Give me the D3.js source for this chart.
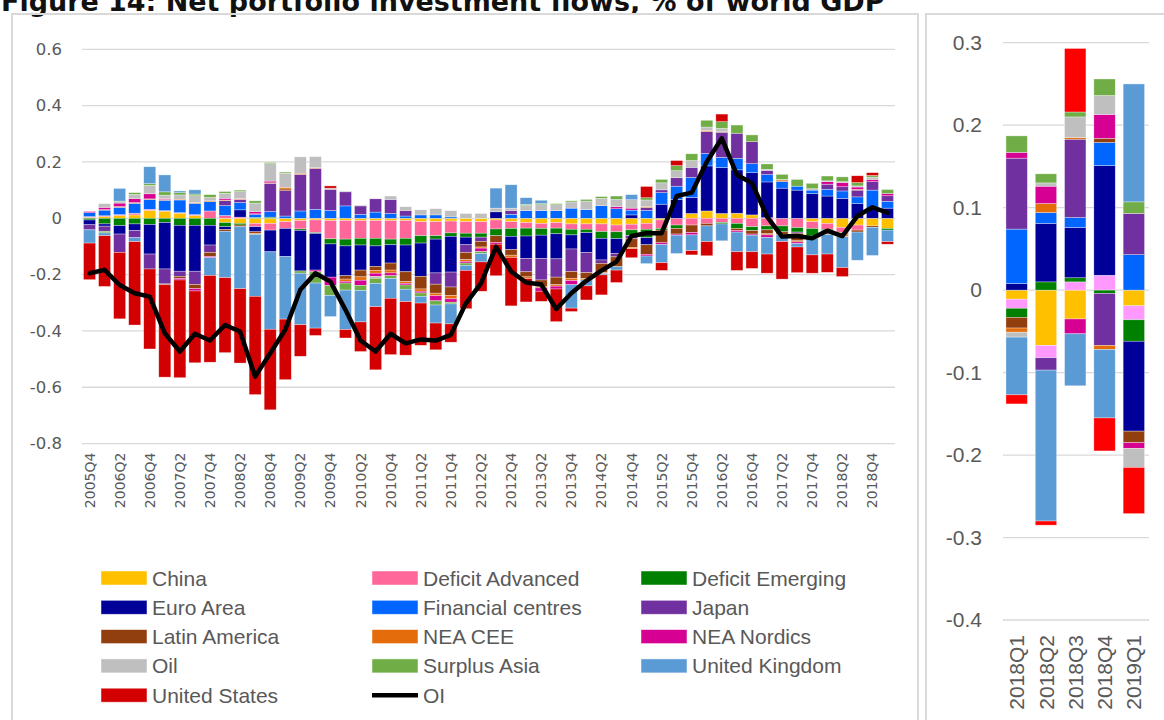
<!DOCTYPE html>
<html>
<head>
<meta charset="utf-8">
<script src="https://cdn.jsdelivr.net/npm/d3@7"></script>
<style>
body { margin: 0; background: #fff; }
svg { display: block; }
</style>
</head>
<body>
<svg id="chart" width="1164" height="720"></svg>
<script>
// categories
var quarters = ['2005Q4',
	'2006Q1','2006Q2','2006Q3','2006Q4','2007Q1','2007Q2','2007Q3','2007Q4',
	'2008Q1','2008Q2','2008Q3','2008Q4','2009Q1','2009Q2','2009Q3','2009Q4',
	'2010Q1','2010Q2','2010Q3','2010Q4','2011Q1','2011Q2','2011Q3','2011Q4',
	'2012Q1','2012Q2','2012Q3','2012Q4','2013Q1','2013Q2','2013Q3','2013Q4',
	'2014Q1','2014Q2','2014Q3','2014Q4','2015Q1','2015Q2','2015Q3','2015Q4',
	'2016Q1','2016Q2','2016Q3','2016Q4','2017Q1','2017Q2','2017Q3','2017Q4',
	'2018Q1','2018Q2','2018Q3','2018Q4','2019Q1'];
var recentQuarters = ['2018Q1','2018Q2','2018Q3','2018Q4','2019Q1'];

var seriesNames = ['China','Deficit Advanced','Deficit Emerging','Euro Area','Financial centres','Japan',
	'Latin America','NEA CEE','NEA Nordics','Oil','Surplus Asia','United Kingdom','United States'];
var seriesColours = ['#FFC000','#FF6699','#008000','#000099','#0066FF','#7030A0',
	'#913F0E','#E46C0A','#D60093','#BFBFBF','#70AD47','#5B9BD5','#D20000'];
var recentColours = ['#FFC000','#FF99FF','#008000','#000099','#0066FF','#7030A0',
	'#913F0E','#E46C0A','#D60093','#BFBFBF','#70AD47','#5B9BD5','#FF0000'];

// left panel, % of world GDP
var china = [0.003,0.006,0.01,0.012,0.028,0.025,0.018,0.01,0,-0.015,
	-0.018,-0.018,-0.018,-0.012,-0.008,-0.006,-0.008,-0.008,-0.008,-0.008,
	-0.008,-0.008,-0.012,-0.012,-0.01,-0.012,-0.012,-0.006,-0.012,-0.015,
	-0.018,-0.015,-0.02,-0.02,-0.02,-0.024,-0.021,-0.018,-0.006,0,
	0.017,0.026,0.017,0.018,0.012,0.002,0,0,-0.012,-0.018,
	-0.032,-0.024,-0.027,-0.036];
var deficitAdvanced = [0.003,0.003,0.003,0.006,0.004,0.002,0.002,0.003,0.026,0.01,
	0.004,-0.012,-0.024,-0.024,-0.03,-0.045,-0.065,-0.066,-0.063,-0.063,
	-0.066,-0.063,-0.05,-0.05,-0.042,-0.041,-0.041,-0.032,-0.024,-0.02,
	-0.018,-0.02,-0.019,-0.019,-0.027,-0.024,-0.02,-0.021,-0.03,-0.024,
	-0.024,-0.018,-0.015,-0.018,-0.03,-0.027,-0.027,-0.033,-0.024,-0.021,
	-0.019,-0.018,0,0];
var deficitEmerging = [-0.006,-0.02,-0.026,-0.02,-0.022,-0.015,-0.025,-0.025,-0.025,-0.015,
	-0.006,0.003,0.004,0,-0.005,-0.003,-0.018,-0.024,-0.024,-0.027,
	-0.02,-0.024,-0.026,-0.012,-0.012,-0.014,-0.014,-0.024,-0.028,-0.028,
	-0.024,-0.02,-0.02,-0.012,-0.024,-0.024,-0.02,-0.03,-0.006,-0.012,
	0,0,-0.005,-0.018,-0.014,-0.014,-0.021,-0.016,-0.027,-0.005,
	-0.004,0,0,-0.006];
var euroArea = [-0.017,-0.008,-0.03,-0.024,-0.105,-0.165,-0.163,-0.163,-0.07,-0.01,
	0.026,-0.018,-0.077,-0.1,-0.144,-0.13,-0.118,-0.106,-0.089,-0.073,
	-0.065,-0.095,-0.118,-0.12,-0.127,-0.027,0,0.023,-0.047,-0.08,
	-0.083,-0.089,-0.05,-0.071,-0.077,-0.053,0.012,-0.025,0.05,0.067,
	0.057,0.16,0.163,0.154,0.15,0.127,0.107,0.1,0.088,0.079,
	0.071,0.052,0.032,0.036];
var financialCentres = [0.014,0.02,0.026,0.035,0.035,0.037,0.045,0.04,0.033,0.035,
	0.026,0.01,0.02,0.008,0.026,0.032,0.028,0.044,0.014,0.022,
	0.017,0.008,0.012,0.012,0.005,0,0,0,0.014,0.027,
	0.027,0.027,0.036,0.031,0.045,0.034,0.017,0.028,0.041,0.047,
	0.071,0.044,0.036,0.041,0.032,0.026,0.024,0.014,0.012,0.024,
	0.026,0.024,0.068,0.024];
var japan = [-0.018,-0.018,-0.065,-0.025,-0.053,-0.053,-0.018,-0.047,-0.026,0.018,
	0.01,0.003,0.1,0.09,0.13,0.145,0.075,0.05,0.03,0.047,
	0.05,0.02,0,-0.04,-0.053,-0.027,-0.015,0,0.014,-0.047,
	-0.076,-0.065,-0.08,-0.071,-0.012,-0.012,-0.012,0.01,0.01,0.03,
	0.036,0.078,0.089,0.089,0.078,0.015,0,-0.004,0,0.018,
	0.015,0.024,0.03,0.02];
var latinAmerica = [0,0,0,0,0,-0.003,-0.008,-0.015,-0.015,-0.006,
	-0.006,-0.006,0,0.006,0,0,0,-0.012,-0.024,-0.014,
	-0.025,-0.035,-0.045,-0.032,-0.03,-0.026,-0.02,-0.024,-0.02,-0.018,
	-0.024,-0.027,-0.024,-0.021,-0.033,-0.035,-0.03,-0.034,-0.045,-0.02,
	-0.027,-0.009,0.002,-0.008,-0.012,-0.014,-0.01,-0.027,-0.008,-0.008,
	-0.004,-0.007,-0.005,0];
var neaCee = [0,0.002,0.003,0.003,0.002,0.003,0.003,0.003,0.003,0.002,
	0.002,-0.003,0.002,0.006,0.004,0.003,0,-0.008,-0.012,-0.01,
	-0.01,-0.006,-0.008,-0.009,-0.012,-0.006,-0.004,0,-0.008,-0.006,
	-0.004,-0.005,-0.008,-0.005,-0.003,0,-0.005,0.003,0,0,
	0,0.004,0,0,0,-0.004,0.005,-0.004,0,-0.005,
	-0.006,0.003,0,0];
var neaNordics = [0.004,0.008,0.012,0.014,0.018,0.003,-0.005,-0.008,-0.004,0.006,
	0.002,0.008,0.006,0,0,-0.006,-0.03,-0.006,-0.018,-0.012,
	-0.01,-0.006,-0.006,-0.018,-0.012,-0.006,-0.012,-0.006,0,0,
	-0.012,-0.01,-0.015,0,0,0.007,0.007,-0.006,-0.006,-0.004,
	-0.008,0,0,-0.005,-0.004,-0.009,0,-0.006,0,0.009,
	0.015,0.008,0.008,0.008];
var oil = [0,0.013,0.005,0.015,0.03,0.012,0.015,0.024,0.012,0.018,
	0.025,0.03,0.062,0.05,0.058,0.039,0.004,0.003,0.003,-0.006,
	0.012,0.013,0.018,0.022,0.022,0.017,0.017,0.013,0.008,0.018,
	0.021,0.021,0.022,0.03,0.026,0.026,0.03,0.024,0.025,0.025,
	0.024,0.012,0.012,0,0,0.004,0.002,0,0.005,0.003,
	0.003,0.004,0.008,0];
var surplusAsia = [0,-0.006,0.002,0.006,0.006,0.012,0.008,0.006,0.01,0.006,
	0.005,0.008,0.004,0.004,-0.008,-0.04,-0.035,-0.025,-0.018,-0.018,
	-0.01,-0.015,-0.012,-0.015,-0.006,-0.008,-0.007,0,0,0.004,
	0.004,0.004,0.004,0.006,0.006,0.012,0,0.008,0.012,0.018,
	0.024,0.024,0.024,0.029,0.024,0.019,0.018,0.024,0.019,0.017,
	0.017,0.012,0.006,0.014];
var unitedKingdom = [-0.047,-0.01,0.045,-0.014,0.06,0.06,0.006,0.015,-0.063,-0.165,
	-0.22,-0.22,-0.275,-0.222,-0.183,-0.16,-0.075,-0.14,-0.112,-0.083,
	-0.07,-0.044,-0.024,-0.064,-0.071,-0.018,-0.03,0.071,0.083,0.024,
	0.012,0,-0.083,-0.021,-0.005,-0.012,0.018,-0.027,-0.065,-0.065,
	-0.056,-0.056,-0.06,-0.07,-0.059,-0.059,-0.025,-0.012,-0.059,-0.07,
	-0.11,-0.1,-0.1,-0.041];
var unitedStates = [-0.13,-0.18,-0.236,-0.296,-0.284,-0.328,-0.347,-0.255,-0.308,-0.266,
	-0.264,-0.349,-0.286,-0.215,-0.112,-0.026,0.008,-0.03,-0.105,-0.224,
	-0.2,-0.19,-0.15,-0.095,-0.065,-0.136,-0.104,-0.112,-0.172,-0.083,
	-0.036,-0.116,-0.012,-0.05,-0.071,-0.044,-0.032,0.04,-0.027,0.018,
	-0.015,-0.05,0.027,-0.066,-0.059,-0.068,-0.133,-0.091,-0.065,-0.065,
	-0.032,0.024,0.01,-0.009];
var oi = [-0.195,-0.183,-0.237,-0.266,-0.278,-0.408,-0.473,-0.41,-0.434,-0.379,
	-0.402,-0.562,-0.479,-0.396,-0.254,-0.195,-0.225,-0.325,-0.434,-0.473,
	-0.41,-0.444,-0.43,-0.434,-0.414,-0.302,-0.231,-0.101,-0.189,-0.228,
	-0.235,-0.322,-0.266,-0.222,-0.186,-0.154,-0.063,-0.053,-0.053,0.079,
	0.091,0.201,0.284,0.154,0.125,0.006,-0.065,-0.063,-0.071,-0.044,
	-0.063,0.008,0.039,0.02];

// right panel, latest quarters
var chinaRecent = [-0.011,-0.067,-0.035,0,-0.019];
var deficitAdvancedRecent = [-0.011,-0.015,0.01,0.018,-0.017];
var deficitEmergingRecent = [-0.011,0.01,0.005,-0.004,-0.026];
var euroAreaRecent = [0.008,0.071,0.061,0.133,-0.109];
var financialCentresRecent = [0.066,0.013,0.012,0.028,0.043];
var japanRecent = [0.086,-0.015,0.095,-0.063,0.05];
var latinAmericaRecent = [-0.013,0,0,0.005,-0.014];
var neaCeeRecent = [-0.005,0.011,0.002,-0.005,0];
var neaNordicsRecent = [0.007,0.021,-0.018,0.029,-0.007];
var oilRecent = [-0.006,0.004,0.025,0.023,-0.023];
var surplusAsiaRecent = [0.02,0.011,0.006,0.02,0.014];
var unitedKingdomRecent = [-0.07,-0.183,-0.063,-0.083,0.143];
var unitedStatesRecent = [-0.011,-0.005,0.077,-0.04,-0.056];

var leftTicks = [0.6,0.4,0.2,0,-0.2,-0.4,-0.6,-0.8];
var rightTicks = [0.3,0.2,0.1,0,-0.1,-0.2,-0.3,-0.4];
var titleText = 'Figure 14: Net portfolio investment flows, % of world GDP';

var leftSeries = [china,deficitAdvanced,deficitEmerging,euroArea,financialCentres,japan,
	latinAmerica,neaCee,neaNordics,oil,surplusAsia,unitedKingdom,unitedStates];
var rightSeries = [chinaRecent,deficitAdvancedRecent,deficitEmergingRecent,euroAreaRecent,
	financialCentresRecent,japanRecent,latinAmericaRecent,neaCeeRecent,neaNordicsRecent,
	oilRecent,surplusAsiaRecent,unitedKingdomRecent,unitedStatesRecent];

var grey = '#595959';
var gridGrey = '#d9d9d9';
var svg = d3.select('#chart');

function buildRows(cats, arrays)
{
	return cats.map(function(c, i) {
		var row = {cat: c};
		seriesNames.forEach(function(n, j) { row[n] = arrays[j][i]; });
		return row;
	});
}

function fmt(d)
{
	return d === 0 ? '0' : String(d);
}

function drawBars(g, rows, x, y, colours)
{
	var stacked = d3.stack().keys(seriesNames).offset(d3.stackOffsetDiverging)(rows);
	g.selectAll('g.series').data(stacked).enter().append('g')
		.attr('class','series')
		.attr('fill', (d,i) => colours[i])
		.selectAll('rect').data(d => d.filter(p => Math.abs(p[1]-p[0]) > 1e-6)).enter().append('rect')
		.attr('x', d => x(d.data.cat))
		.attr('width', x.bandwidth())
		.attr('y', d => y(d[1]))
		.attr('height', d => y(d[0]) - y(d[1]))
		.attr('stroke','#ffffff').attr('stroke-opacity',0.55).attr('stroke-width',0.6);
}

function grid(g, ticks, x0, x1, y)
{
	g.selectAll('line.grid').data(ticks).enter().append('line')
		.attr('class','grid')
		.attr('x1', x0).attr('x2', x1)
		.attr('y1', d => y(d)).attr('y2', d => y(d))
		.attr('stroke', gridGrey).attr('stroke-width', 1.3);
}

// title, cut at the top edge as in the source
var title = svg.append('text').text(titleText)
	.attr('x', 1).attr('y', 11)
	.attr('font-family','DejaVu Sans').attr('font-weight','bold')
	.attr('font-size', 21).attr('fill','#111');
var tl = title.node().getComputedTextLength();
title.attr('font-size', 21 * 884 / tl);

// panel frames
svg.append('rect').attr('x',12).attr('y',14).attr('width',906).attr('height',720)
	.attr('fill','none').attr('stroke',gridGrey).attr('stroke-width',2);
svg.append('rect').attr('x',926).attr('y',14).attr('width',250).attr('height',720)
	.attr('fill','none').attr('stroke',gridGrey).attr('stroke-width',2);

// ---- left panel
var xl = d3.scaleBand().domain(quarters).range([82, 895]).paddingInner(0.2).paddingOuter(0.1);
var yl = d3.scaleLinear().domain([-0.8, 0.6]).range([443.6, 49.3]);
var left = svg.append('g');
grid(left, leftTicks, 82, 895, yl);
drawBars(left, buildRows(quarters, leftSeries), xl, yl, seriesColours);

var line = d3.line().x((d,i) => xl(quarters[i]) + xl.bandwidth()/2).y(d => yl(d));
left.append('path').datum(oi).attr('d', line)
	.attr('fill','none').attr('stroke','#000').attr('stroke-width',4.5)
	.attr('stroke-linejoin','round').attr('stroke-linecap','round');

var ayl = left.append('g').attr('transform','translate(82,0)')
	.call(d3.axisLeft(yl).tickValues(leftTicks).tickFormat(fmt).tickSize(0).tickPadding(20));
ayl.select('.domain').remove();
ayl.selectAll('text').attr('font-family','DejaVu Sans').attr('font-size',16.5).attr('fill',grey);

var axl = left.append('g').attr('transform','translate(0,443.6)')
	.call(d3.axisBottom(xl).tickValues(quarters.filter((q,i) => i % 2 == 0)).tickSize(0));
axl.select('.domain').remove();
axl.selectAll('text').attr('transform','rotate(-90)').attr('text-anchor','end')
	.attr('x',-9).attr('y',0).attr('dy','0.36em')
	.attr('font-family','DejaVu Sans').attr('font-size',14).attr('fill',grey);

// legend
var legendItems = seriesNames.concat(['OI']);
var legend = svg.append('g').attr('font-family','Liberation Sans').attr('font-size',21).attr('fill',grey);
var colX = [101, 372, 641];
legendItems.forEach(function(name, i) {
	var cx = colX[i % 3];
	var cy = 578 + Math.floor(i / 3) * 29.3;
	if (name === 'OI')
	{
		legend.append('line').attr('x1',cx).attr('x2',cx+46).attr('y1',cy).attr('y2',cy)
			.attr('stroke','#000').attr('stroke-width',4.5);
	}
	else
	{
		legend.append('rect').attr('x',cx).attr('y',cy-7).attr('width',46).attr('height',14)
			.attr('fill',seriesColours[i]).attr('stroke','#ffffff').attr('stroke-opacity',0.6).attr('stroke-width',0.8);
	}
	legend.append('text').attr('x',cx+51).attr('y',cy+7.5).text(name);
});

// ---- right panel
var xr = d3.scaleBand().domain(recentQuarters).range([1002, 1148.5]).paddingInner(0.27).paddingOuter(0.135);
var yr = d3.scaleLinear().domain([-0.4, 0.3]).range([620, 42.7]);
var right = svg.append('g');
grid(right, rightTicks, 1003, 1149, yr);
drawBars(right, buildRows(recentQuarters, rightSeries), xr, yr, recentColours);

var ayr = right.append('g').attr('transform','translate(1003,0)')
	.call(d3.axisLeft(yr).tickValues(rightTicks).tickFormat(fmt).tickSize(0).tickPadding(21));
ayr.select('.domain').remove();
ayr.selectAll('text').attr('font-family','Liberation Sans').attr('font-size',21).attr('fill',grey);

var axr = right.append('g').attr('transform','translate(0,620)')
	.call(d3.axisBottom(xr).tickSize(0));
axr.select('.domain').remove();
axr.selectAll('text').attr('transform','rotate(-90)').attr('text-anchor','end')
	.attr('x',-15).attr('y',0).attr('dy','0.36em')
	.attr('font-family','Liberation Sans').attr('font-size',21).attr('fill',grey);
</script>
</body>
</html>
